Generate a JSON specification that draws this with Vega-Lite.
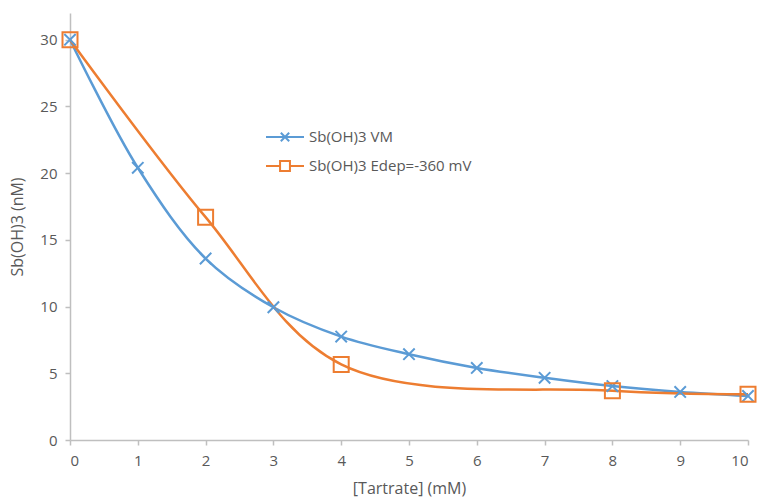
{
  "$schema": "https://vega.github.io/schema/vega-lite/v6.json",
  "autosize": "none",
  "width": 678,
  "height": 427,
  "padding": {"left": 70, "top": 13, "right": 12, "bottom": 61},
  "background": "white",
  "config": {
    "font": "Open Sans",
    "view": {"stroke": null},
    "axis": {
      "grid": false,
      "domainColor": "#bfbfbf",
      "domainWidth": 1.5,
      "tickColor": "#bfbfbf",
      "tickWidth": 1.5,
      "tickSize": 5,
      "labelColor": "#595959",
      "labelFontSize": 15,
      "titleColor": "#595959",
      "titleFontSize": 16,
      "titleFontWeight": "normal"
    }
  },
  "data": {
    "values": [
      {"series": "Sb(OH)3 VM", "x": 0, "y": 30},
      {"series": "Sb(OH)3 VM", "x": 1, "y": 20.4},
      {"series": "Sb(OH)3 VM", "x": 2, "y": 13.6},
      {"series": "Sb(OH)3 VM", "x": 3, "y": 9.95},
      {"series": "Sb(OH)3 VM", "x": 4, "y": 7.75},
      {"series": "Sb(OH)3 VM", "x": 5, "y": 6.43},
      {"series": "Sb(OH)3 VM", "x": 6, "y": 5.4},
      {"series": "Sb(OH)3 VM", "x": 7, "y": 4.66},
      {"series": "Sb(OH)3 VM", "x": 8, "y": 4.04},
      {"series": "Sb(OH)3 VM", "x": 9, "y": 3.6},
      {"series": "Sb(OH)3 VM", "x": 10, "y": 3.3},
      {"series": "Sb(OH)3 Edep=-360 mV", "x": 0, "y": 30},
      {"series": "Sb(OH)3 Edep=-360 mV", "x": 2, "y": 16.7},
      {"series": "Sb(OH)3 Edep=-360 mV", "x": 4, "y": 5.66},
      {"series": "Sb(OH)3 Edep=-360 mV", "x": 8, "y": 3.69},
      {"series": "Sb(OH)3 Edep=-360 mV", "x": 10, "y": 3.42}
    ]
  },
  "encoding": {
    "x": {
      "field": "x", "type": "quantitative",
      "scale": {"domain": [0, 10], "nice": false},
      "axis": {"values": [0,1,2,3,4,5,6,7,8,9,10], "title": "[Tartrate] (mM)", "labelPadding": 8, "titlePadding": 12}
    },
    "y": {
      "field": "y", "type": "quantitative",
      "scale": {"domain": [0, 32], "nice": false},
      "axis": {"values": [0,5,10,15,20,25,30], "title": "Sb(OH)3 (nM)", "labelPadding": 8, "titlePadding": 14}
    }
  },
  "resolve": {"legend": {"color": "independent"}},
  "layer": [
    {
      "mark": {"type": "line", "interpolate": "catmull-rom", "strokeWidth": 2.5},
      "encoding": {
        "color": {
          "field": "series", "type": "nominal",
          "scale": {"domain": ["Sb(OH)3 VM", "Sb(OH)3 Edep=-360 mV"], "range": ["#5B9BD5", "#ED7D31"]},
          "legend": {
            "title": null,
            "orient": "none",
            "legendX": 195,
            "legendY": 104,
            "labelFontSize": 15,
            "labelColor": "#595959",
            "labelLimit": 400,
            "labelOffset": 4,
            "rowPadding": -5,
            "symbolSize": 1444,
            "symbolStrokeWidth": 2,
            "encode": {
              "symbols": {
                "update": {
                  "shape": {"signal": "datum.value == 'Sb(OH)3 VM' ? 'M-1,0L1,0M-0.22,-0.22L0.22,0.22M-0.22,0.22L0.22,-0.22' : 'M-1,0L-0.26,0M0.26,0L1,0M-0.26,-0.26L0.26,-0.26L0.26,0.26L-0.26,0.26Z'"},
                  "fill": {"value": "transparent"},
                  "size": {"value": 1444},
                  "strokeWidth": {"value": 2}
                }
              }
            }
          }
        }
      }
    },
    {
      "mark": {"type": "point", "filled": false, "strokeWidth": 2, "opacity": 1},
      "encoding": {
        "color": {
          "field": "series", "type": "nominal",
          "scale": {"domain": ["Sb(OH)3 VM", "Sb(OH)3 Edep=-360 mV"], "range": ["#5B9BD5", "#ED7D31"]},
          "legend": null
        },
        "shape": {
          "field": "series", "type": "nominal",
          "scale": {"domain": ["Sb(OH)3 VM", "Sb(OH)3 Edep=-360 mV"], "range": ["M-1,-1L1,1M-1,1L1,-1", "square"]},
          "legend": null
        },
        "size": {
          "field": "series", "type": "nominal",
          "scale": {"domain": ["Sb(OH)3 VM", "Sb(OH)3 Edep=-360 mV"], "range": [130, 225]},
          "legend": null
        }
      }
    }
  ]
}
